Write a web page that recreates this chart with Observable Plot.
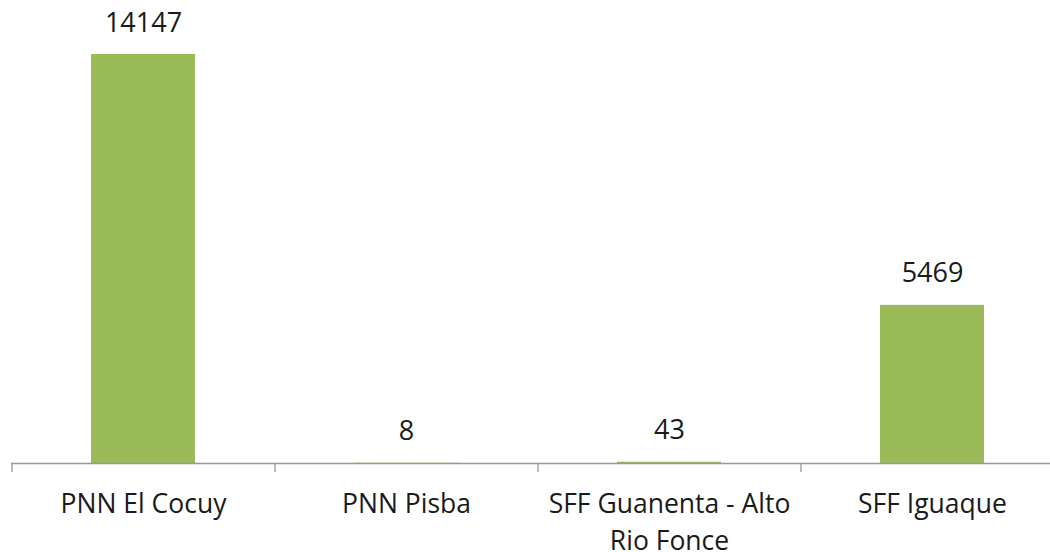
<!DOCTYPE html>
<html>
<head>
<meta charset="utf-8">
<script src="https://cdn.jsdelivr.net/npm/d3@7"></script>
<script src="https://cdn.jsdelivr.net/npm/@observablehq/plot@0.6"></script>
<style>
  html, body { margin: 0; padding: 0; background: #fff; }
  #chart svg { display: block; }
</style>
</head>
<body>
<div id="chart"></div>
<script>
const categories = ["PNN El Cocuy", "PNN Pisba", "SFF Guanenta - Alto Rio Fonce", "SFF Iguaque"];
const values = [14147, 8, 43, 5469];

const data = categories.map((c, i) => ({category: c, value: values[i]}));

const W = 1050, H = 552;
const xRange = [11, 1063];
const step = (xRange[1] - xRange[0]) / categories.length;
const font = "Open Sans, sans-serif";

const chart = Plot.plot({
  width: W,
  height: H,
  marginLeft: 11,
  marginRight: 0,
  marginTop: 54,
  marginBottom: 89,
  style: {fontFamily: font, fontSize: "26px", color: "#1a1a1a", background: "#fff"},
  x: {domain: categories, range: xRange, paddingInner: 0.605, paddingOuter: 0.3025, label: null},
  y: {domain: [0, d3.max(values)], axis: null},
  marks: [
    Plot.barY(data, {x: "category", y: "value", fill: "#9BBB59"}),
    Plot.ruleY([0], {stroke: "#999", strokeWidth: 1.3}),
    Plot.ruleX(categories, {
      x: d => d, y1: 0, y2: 0, dx: -step / 2, insetBottom: -9, stroke: "#999", strokeWidth: 1.3
    }),
    Plot.ruleX([categories[categories.length - 1]], {
      x: d => d, y1: 0, y2: 0, dx: step / 2, insetBottom: -9, stroke: "#999", strokeWidth: 1.3
    }),
    Plot.text(data, {
      x: "category", y: "value", text: d => String(d.value),
      lineAnchor: "bottom", dy: -23, fontSize: 27, fill: "#1a1a1a", fontFamily: font
    }),
    Plot.axisX({
      tickSize: 0, tickPadding: 23, fontSize: 26.5, fill: "#1a1a1a", fontFamily: font,
      lineHeight: 1.4,
      tickFormat: d => d.replace(" - Alto ", " - Alto\n")
    })
  ]
});

document.getElementById("chart").appendChild(chart);
</script>
</body>
</html>
